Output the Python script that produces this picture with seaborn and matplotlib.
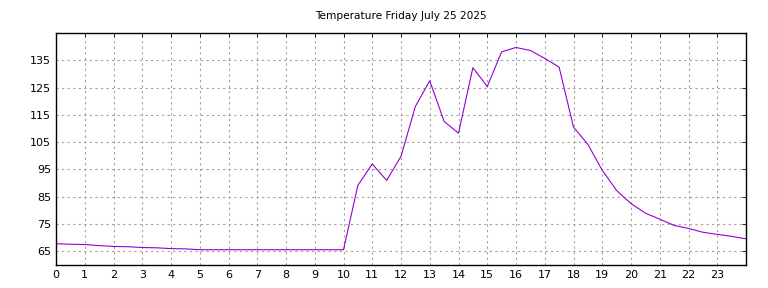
import pandas as pd
import seaborn as sns
import matplotlib.pyplot as plt

# Temperature readings every half hour
hours = [0, 0.5, 1, 1.5, 2, 2.5, 3, 3.5, 4, 4.5, 5, 5.5, 6, 6.5, 7, 7.5, 8, 8.5, 9, 9.5,
         10, 10.5, 11, 11.5, 12, 12.5, 13, 13.5, 14, 14.5, 15, 15.5, 16, 16.5, 17, 17.5,
         18, 18.5, 19, 19.5, 20, 20.5, 21, 21.5, 22, 22.5, 23, 23.5, 24]
temps = [67.8, 67.6, 67.5, 67.1, 66.8, 66.7, 66.4, 66.3, 66.0, 65.9, 65.6, 65.6, 65.6, 65.6,
         65.6, 65.6, 65.6, 65.6, 65.6, 65.6,
         65.6, 89.2, 97.0, 91.0, 99.8, 118.1, 127.5, 112.6, 108.3, 132.3, 125.4, 138.1,
         139.7, 138.6, 135.7, 132.5,
         110.5, 104.2, 94.7, 87.3, 82.5, 79.0, 76.8, 74.5, 73.4, 72.0, 71.2, 70.5, 69.6]
x_ticks = list(range(0, 24))
y_ticks = [65, 75, 85, 95, 105, 115, 125, 135]
title = "Temperature Friday July 25 2025"

df = pd.DataFrame({"hour": hours, "temp": temps})

sns.set_style("white")
plt.rcParams['font.family'] = ['DejaVu Sans']

fig = plt.figure(figsize=(7.68, 2.88), dpi=100)
ax = fig.add_axes([56 / 768, 23 / 288, 690 / 768, 232 / 288])

sns.lineplot(data=df, x="hour", y="temp", ax=ax, color="#9400D3", linewidth=0.8)

ax.set_xlim(0, 24)
ax.set_ylim(60, 145)
ax.set_xticks(x_ticks)
ax.set_yticks(y_ticks)
ax.set_xlabel("")
ax.set_ylabel("")
ax.tick_params(labelsize=8, direction="in", length=3, width=0.6, top=True, right=True, colors="black")
ax.grid(True, color="#a0a0a0", linestyle=(0, (2, 3)), linewidth=0.8)
for s in ax.spines.values():
    s.set_color("black")
    s.set_linewidth(1)

fig.text(401 / 768, 1 - 16 / 288, title, ha="center", va="center", fontsize=7.6, color="black")

fig.savefig("out.png", dpi=100)
